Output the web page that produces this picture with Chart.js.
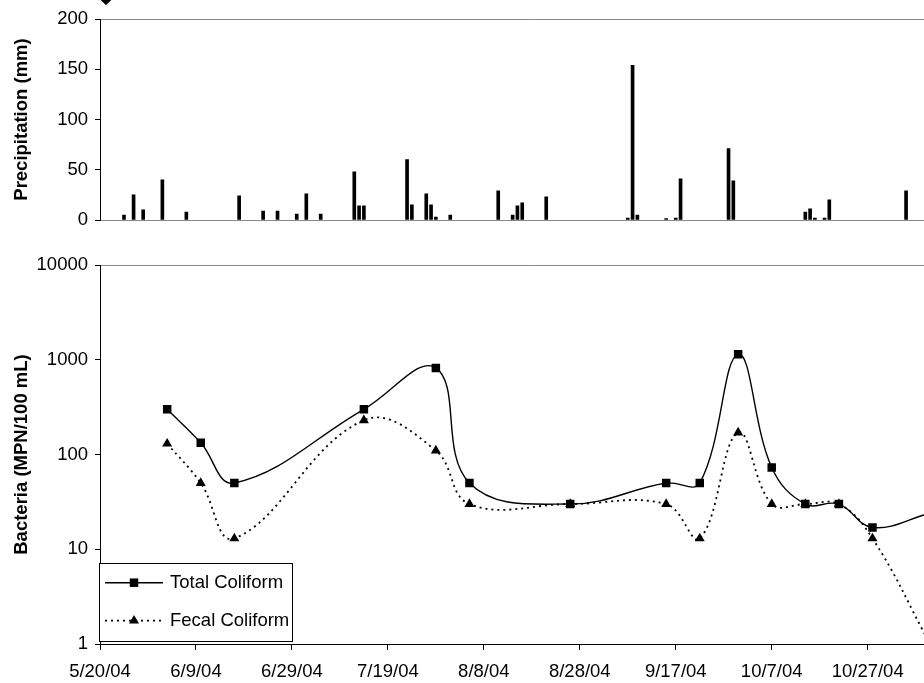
<!DOCTYPE html>
<html>
<head>
<meta charset="utf-8">
<script src="https://cdn.jsdelivr.net/npm/chart.js@4.4.1/dist/chart.umd.min.js"></script>
<style>
  html, body { margin: 0; padding: 0; background: #fff; }
  body { width: 924px; height: 683px; overflow: hidden; position: relative; }
  canvas { position: absolute; left: 0; }
  #top { top: 0; }
  #bottom { top: 240px; }
</style>
</head>
<body>
<canvas id="top" width="1010" height="240"></canvas>
<canvas id="bottom" width="1010" height="443"></canvas>
<script>
// ---------- data ----------
const startDate = '2004-05-20';
const xTickLabels = ['5/20/04', '6/9/04', '6/29/04', '7/19/04', '8/8/04', '8/28/04', '9/17/04', '10/7/04', '10/27/04', '11/16/04'];
const precipTicks = [0, 50, 100, 150, 200];
const bacteriaTicks = [1, 10, 100, 1000, 10000];

const precipDates = ['2004-05-25','2004-05-27','2004-05-29','2004-06-02','2004-06-07','2004-06-18','2004-06-23','2004-06-26','2004-06-30','2004-07-02',
  '2004-07-05','2004-07-12','2004-07-13','2004-07-14','2004-07-23','2004-07-24','2004-07-27','2004-07-28','2004-07-29','2004-08-01',
  '2004-08-11','2004-08-14','2004-08-15','2004-08-16','2004-08-21','2004-09-07','2004-09-08','2004-09-09','2004-09-15','2004-09-17',
  '2004-09-18','2004-09-28','2004-09-29','2004-10-14','2004-10-15','2004-10-16','2004-10-18','2004-10-19','2004-11-04'];
const precipMm = [5, 25, 10, 40, 8, 24, 9, 9, 6, 26,
  6, 48, 14, 14, 60, 15, 26, 15, 3, 5,
  29, 5, 14, 17, 23, 2, 154, 5, 1.5, 2,
  41, 71, 39, 8, 11, 2, 2, 20, 29];

const sampleDates = ['2004-06-03','2004-06-10','2004-06-17','2004-07-14','2004-07-29','2004-08-05','2004-08-26','2004-09-15','2004-09-22','2004-09-30',
  '2004-10-07','2004-10-14','2004-10-21','2004-10-28','2004-11-09'];
const totalColiform = [300, 133, 50, 300, 820, 50, 30, 50, 50, 1140, 73, 30, 30, 17, 24];
const fecalColiform = [130, 50, 13, 230, 110, 30, 30, 30, 13, 170, 30, 30, 30, 13, 1];

// ---------- helpers ----------
const DAY = 86400000;
const t0 = Date.parse(startDate + 'T00:00:00Z');
const dayOf = s => Math.round((Date.parse(s + 'T00:00:00Z') - t0) / DAY);
const FONT = "'Liberation Sans', Arial, sans-serif";
const FS = 18.5;
const AXIS = '#000';
const FRAME = '#888';
const X_MAX = 180;
const RIGHT_PAD = 1010 - (100 + X_MAX * 4.798);

const yTitle = text => ({
  display: true, text, color: '#000',
  font: { family: FONT, size: FS, weight: 'bold', lineHeight: 1.2 },
  padding: { top: 11, bottom: 0 }
});

// ---------- top: precipitation ----------
const diamondPlugin = {
  id: 'diamond',
  afterDraw(chart) {
    const c = chart.ctx;
    c.save();
    c.fillStyle = '#000';
    c.beginPath();
    c.moveTo(106, -5.3); c.lineTo(111.3, 0); c.lineTo(106, 5.3); c.lineTo(100.7, 0);
    c.closePath(); c.fill();
    c.restore();
  }
};

new Chart(document.getElementById('top'), {
  type: 'bar',
  data: {
    datasets: [{
      label: 'Precipitation',
      data: precipDates.map((d, i) => ({ x: dayOf(d), y: precipMm[i] })),
      backgroundColor: '#000',
      borderWidth: 0,
      barThickness: 3
    }]
  },
  options: {
    responsive: false, animation: false, devicePixelRatio: 1,
    layout: { padding: { left: 0, top: 19, right: RIGHT_PAD, bottom: 0 } },
    plugins: { legend: { display: false }, tooltip: { enabled: false } },
    scales: {
      x: {
        type: 'linear', min: 0, max: X_MAX, offset: false,
        ticks: { display: false },
        grid: { display: true, drawOnChartArea: false, drawTicks: false, offset: false },
        border: { color: FRAME, width: 1 },
        afterFit(s) { s.height = 20; }
      },
      y: {
        min: 0, max: 200,
        afterBuildTicks(s) { s.ticks = precipTicks.map(v => ({ value: v })); },
        ticks: { color: '#000', font: { family: FONT, size: FS }, padding: 7, callback: v => String(v) },
        grid: {
          color: c => (c.tick && c.tick.value === 200) ? FRAME : 'rgba(0,0,0,0)',
          tickColor: AXIS, tickLength: 5, lineWidth: 1
        },
        border: { color: AXIS, width: 1 },
        title: yTitle('Precipitation (mm)'),
        afterFit(s) { s.width = 100; }
      }
    }
  },
  plugins: [diamondPlugin]
});

// ---------- bottom: bacteria ----------
const legendPlugin = {
  id: 'boxLegend',
  afterDraw(chart) {
    const c = chart.ctx;
    const ds = chart.data.datasets;
    c.save();
    c.fillStyle = '#fff';
    c.strokeStyle = '#000';
    c.lineWidth = 1;
    c.fillRect(99.5, 323.5, 193, 78);
    c.strokeRect(99.5, 323.5, 193, 78);
    const rows = [342.7, 380.7];
    rows.forEach((y, i) => {
      const d = ds[i];
      c.beginPath();
      c.setLineDash(d.borderDash || []);
      c.lineWidth = d.borderWidth;
      c.strokeStyle = d.borderColor;
      c.moveTo(105, y); c.lineTo(163, y);
      c.stroke();
      c.setLineDash([]);
      c.fillStyle = '#000';
      c.beginPath();
      if (d.pointStyle === 'rect') {
        c.rect(129.75, y - 4.25, 8.5, 8.5);
      } else {
        const r = d.pointRadius;
        c.moveTo(134, y - r);
        c.lineTo(134 + r * 0.866, y + r / 2);
        c.lineTo(134 - r * 0.866, y + r / 2);
        c.closePath();
      }
      c.fill();
      c.fillStyle = '#000';
      c.font = FS + 'px ' + FONT;
      c.textAlign = 'left';
      c.textBaseline = 'middle';
      c.fillText(d.label, 170, y + 0.5);
    });
    c.restore();
  }
};

new Chart(document.getElementById('bottom'), {
  type: 'line',
  data: {
    datasets: [
      {
        label: 'Total Coliform',
        data: sampleDates.map((d, i) => ({ x: dayOf(d), y: totalColiform[i] })),
        borderColor: '#000', borderWidth: 1.4,
        pointStyle: 'rect', pointRadius: 6, pointBorderWidth: 0,
        pointBackgroundColor: '#000', pointBorderColor: '#000',
        tension: 0.4, fill: false
      },
      {
        label: 'Fecal Coliform',
        data: sampleDates.map((d, i) => ({ x: dayOf(d), y: fecalColiform[i] })),
        borderColor: '#000', borderWidth: 1.8, borderDash: [2, 4],
        pointStyle: 'triangle', pointRadius: 5.8, pointBorderWidth: 0,
        pointBackgroundColor: '#000', pointBorderColor: '#000',
        tension: 0.4, fill: false
      }
    ]
  },
  options: {
    responsive: false, animation: false, devicePixelRatio: 1,
    layout: { padding: { left: 0, top: 25, right: RIGHT_PAD, bottom: 0 } },
    plugins: { legend: { display: false }, tooltip: { enabled: false } },
    scales: {
      x: {
        type: 'linear', min: 0, max: X_MAX,
        afterBuildTicks(s) { s.ticks = xTickLabels.map((l, i) => ({ value: i * 20 })); },
        ticks: {
          autoSkip: false, maxRotation: 0, minRotation: 0, padding: 11,
          color: '#000', font: { family: FONT, size: FS },
          callback: v => xTickLabels[Math.round(v / 20)]
        },
        grid: { drawOnChartArea: false, tickLength: 6, tickColor: AXIS },
        border: { color: AXIS, width: 1 },
        afterFit(s) { s.height = 39; }
      },
      y: {
        type: 'logarithmic', min: 1, max: 10000,
        afterBuildTicks(s) { s.ticks = bacteriaTicks.map(v => ({ value: v })); },
        ticks: { color: '#000', font: { family: FONT, size: FS }, padding: 7, callback: v => String(v) },
        grid: {
          color: c => (c.tick && c.tick.value === 10000) ? FRAME : 'rgba(0,0,0,0)',
          tickColor: AXIS, tickLength: 5, lineWidth: 1
        },
        border: { color: AXIS, width: 1 },
        title: yTitle('Bacteria (MPN/100 mL)'),
        afterFit(s) { s.width = 100; }
      }
    }
  },
  plugins: [legendPlugin]
});
</script>
</body>
</html>
